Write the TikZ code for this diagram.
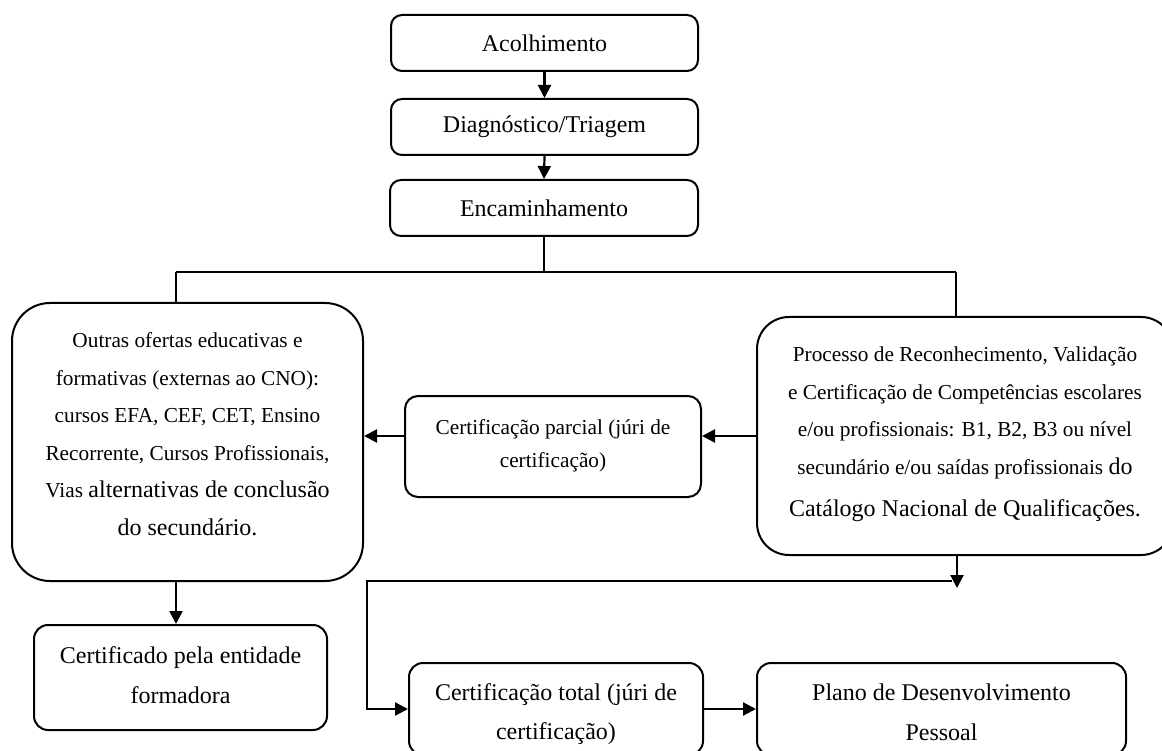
\documentclass[tikz,border=0pt]{standalone}
\usepackage{fontspec}
\setmainfont{Liberation Serif}
\usetikzlibrary{arrows.meta}
\newcommand\bigf{\fontsize{24}{37.5}\selectfont}
\newcommand\smallf{\fontsize{21.3}{37.5}\selectfont}
\begin{document}
\begin{tikzpicture}[x=1pt,y=-1pt,
  box/.style={draw, line width=2pt, rounded corners=11pt, align=center, inner sep=0pt},
  conn/.style={line width=2.2pt},
  arr/.style={conn, -{Triangle[length=13pt,width=13pt]}}]
\useasboundingbox (0,0) rectangle (1162,751);
% top chain
\node[box, minimum width=307pt, minimum height=56pt, font=\bigf] (acol) at (544.5,43) {Acolhimento};
\node[box, minimum width=307pt, minimum height=56pt, font=\bigf] (diag) at (544.5,127) {Diagnóstico/Triagem};
\node[box, minimum width=308pt, minimum height=56pt, font=\bigf] (enc) at (544,208) {Encaminhamento};
% big boxes
\node[box, rounded corners=38pt, minimum width=351pt, minimum height=278pt, font=\smallf] (lb) at (187.5,442)
  {Outras ofertas educativas e\\ formativas (externas ao CNO):\\ cursos EFA, CEF, CET, Ensino\\ Recorrente, Cursos Profissionais,\\ Vias {\bigf alternativas de conclusão}\\ {\bigf do secundário.}\rule[-16pt]{0pt}{0pt}};
\node[box, rounded corners=32pt, minimum width=416pt, minimum height=238pt, font=\smallf] (rb) at (965,436)
  {Processo de Reconhecimento, Validação\\ e Certificação de Competências escolares\\ e/ou profissionais: B1, B2, B3 ou nível\\ secundário e/ou saídas profissionais {\bigf do}\\[5pt] {\bigf Catálogo Nacional de Qualificações.}\rule[-8pt]{0pt}{0pt}};
\node[box, rounded corners=13pt, minimum width=296pt, minimum height=101pt, font={\fontsize{21.3}{33}\selectfont}] (cp) at (553,446.5)
  {Certificação parcial (júri de\\ certificação)\rule[-6pt]{0pt}{0pt}};
\node[box, rounded corners=14pt, minimum width=293pt, minimum height=105pt, font={\fontsize{24}{40}\selectfont}] (cf) at (180.5,677.5)
  {Certificado pela entidade\\ formadora\rule[-4pt]{0pt}{0pt}};
\node[box, rounded corners=14pt, minimum width=294pt, minimum height=92pt, font={\fontsize{24}{39}\selectfont}] (ct) at (556,709)
  {\rule{0pt}{27pt}Certificação total (júri de\\ certificação)};
\node[box, rounded corners=14pt, minimum width=369pt, minimum height=92pt, font={\fontsize{24}{40}\selectfont}] (pd) at (941.5,709)
  {\rule{0pt}{23pt}Plano de Desenvolvimento\\ Pessoal};
% connectors
\draw[arr] (acol.south) -- (diag.north);
\draw[arr] (diag.south) -- (enc.north);
\coordinate (jl) at (176,272);
\coordinate (jr) at (956,272);
\draw[conn] (enc.south) -- (enc.south |- jl);
\draw[conn] (jl) -- (jr);
\draw[conn] (jl) -- (jl |- lb.north);
\draw[conn] (jr) -- (jr |- rb.north);
\draw[arr] (rb.west) -- (rb.west -| cp.east);
\draw[arr] (rb.west -| cp.west) -- (rb.west -| lb.east);
\draw[arr] (jl |- lb.south) -- (jl |- cf.north);
\coordinate (rd) at (957,588);
\draw[arr] (rd |- rb.south) -- (rd);
\coordinate (rl) at (952,581);
\coordinate (bl) at (367,581);
\draw[arr] (rl) -- (bl) -- (bl |- ct.west) -- (ct.west);
\draw[arr] (ct.east) -- (pd.west);
\end{tikzpicture}
\end{document}
